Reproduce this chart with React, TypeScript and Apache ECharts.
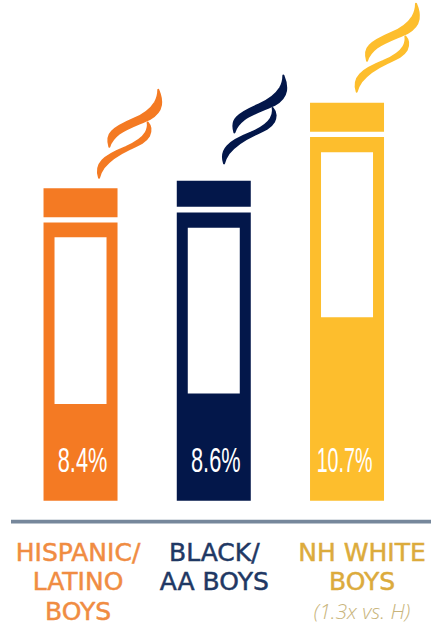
import React, { useEffect, useRef } from "react";
import * as echarts from "echarts";

// Group labels, one row per line of the axis label
const groupLines = [
  ["HISPANIC/", "LATINO", "BOYS"],
  ["BLACK/", "AA BOYS"],
  ["NH WHITE", "BOYS"],
];
const groupNotes = ["", "", "(1.3x vs. H)"];
const groupKeys = ["hispanic", "black", "white"];

// Prevalence per group, in percent
const rates = [8.4, 8.6, 10.7];
// Levels of the bottle details on the same scale: white band under the cap, then the window
const capBandTop = [7.62, 7.9, 9.92];
const capBandBottom = [7.48, 7.75, 9.78];
const windowTops = [7.08, 7.34, 9.37];
const windowBottoms = [2.6, 2.88, 4.93];

const barColors = ["#f47a23", "#03174a", "#fdbe2d"];
const labelColors = ["#f08c42", "#1f3864", "#dcab3c"];
const noteColor = "#c9b57c";
const ruleColor = "#76879b";

// Horizontal nudge of each axis label and value label away from its bar centre
const labelShift = [-2.5, 0.5, 15];
const valueShift = [2, 2, -2.5];
const valueSqueeze = [0.63, 0.63, 0.57];
// Where the flame's lower tip sits, relative to the top centre of its bar
const flameAnchor = [
  [18.5, -10.5],
  [10.3, -17.4],
  [9.7, -11],
];

// Two ribbons, drawn from the lower tip at the origin, at three times their final size
const FLAME_PATH =
  "M178,-264 C184,-250 188,-232 186,-218 C183,-200 170,-186 152,-176 " +
  "C125,-163 85,-150 60,-132 C47,-122 36,-110 31,-93 " +
  "C26,-110 28,-128 38,-138 C50,-152 70,-162 105,-177 " +
  "C135,-190 155,-205 168,-226 C175,-238 178,-250 178,-264 Z " +
  "M146,-166 C156,-155 157,-140 150,-125 C140,-107 118,-98 90,-85 " +
  "C60,-71 30,-50 14,-30 C7,-20 2,-10 0,0 " +
  "C-6,-18 -3,-38 10,-52 C25,-68 50,-80 80,-92 " +
  "C110,-105 130,-118 140,-135 C146,-145 148,-155 146,-166 Z";

echarts.graphic.registerShape("flame", (echarts.graphic as any).extendPath(FLAME_PATH, {}));

const BAR_WIDTH = 74;
const WINDOW_WIDTH = 52;

function axisLabelText(_: string, index: number): string {
  const key = groupKeys[index];
  const rows = groupLines[index].map((line) => `{${key}|${line}}`);
  if (groupNotes[index]) rows.push(`{${key}Note|${groupNotes[index]}}`);
  return rows.join("\n");
}

function axisRich() {
  const rich: Record<string, object> = {};
  groupKeys.forEach((key, i) => {
    const pad = labelShift[i] > 0 ? [0, 0, 0, labelShift[i] * 2] : [0, -labelShift[i] * 2, 0, 0];
    rich[key] = {
      fontFamily: "DejaVu Sans",
      fontSize: 25,
      lineHeight: 29.4,
      color: labelColors[i],
      textBorderColor: labelColors[i],
      textBorderWidth: 0.5,
      padding: pad,
    };
    rich[key + "Note"] = {
      fontFamily: "Open Sans",
      fontSize: 21,
      fontStyle: "italic",
      fontWeight: 300,
      lineHeight: 29.4,
      color: noteColor,
      padding: pad,
    };
  });
  return rich;
}

function renderBottle(params: any, api: any) {
  const i = api.value(0);
  const [cx, top] = api.coord([i, api.value(1)]);
  const [, bottom] = api.coord([i, 0]);
  const [, bandTop] = api.coord([i, api.value(2)]);
  const [, bandBottom] = api.coord([i, api.value(3)]);
  const [, windowTop] = api.coord([i, api.value(4)]);
  const [, windowBottom] = api.coord([i, api.value(5)]);
  const [fx, fy] = flameAnchor[i];
  return {
    type: "group",
    children: [
      {
        type: "rect",
        shape: { x: cx - BAR_WIDTH / 2 - 1, y: bandTop, width: BAR_WIDTH + 2, height: bandBottom - bandTop },
        style: { fill: "#ffffff" },
      },
      {
        type: "rect",
        shape: { x: cx - WINDOW_WIDTH / 2, y: windowTop, width: WINDOW_WIDTH, height: windowBottom - windowTop },
        style: { fill: "#ffffff" },
      },
      {
        type: "flame",
        x: cx + fx,
        y: top + fy,
        scaleX: 1 / 3,
        scaleY: 1 / 3,
        style: { fill: barColors[i], stroke: barColors[i], lineWidth: 6, lineJoin: "round" },
      },
      {
        type: "text",
        x: cx + valueShift[i],
        y: bottom - 40.5,
        scaleX: valueSqueeze[i],
        style: {
          text: `${rates[i]}%`,
          fill: "#ffffff",
          font: "400 34.5px 'Liberation Sans', sans-serif",
          textAlign: "center",
          textVerticalAlign: "middle",
        },
      },
    ],
  };
}

export default function App() {
  const ref = useRef<HTMLDivElement>(null);

  useEffect(() => {
    const chart = echarts.init(ref.current!, undefined, { renderer: "svg" });
    chart.setOption({
      animation: false,
      backgroundColor: "#ffffff",
      grid: { left: 13.9, top: 17.1, width: 399.75, height: 483.6 },
      xAxis: {
        type: "category",
        data: groupKeys,
        offset: 21,
        axisLine: { show: false },
        axisTick: { show: false },
        axisLabel: {
          interval: 0,
          margin: 16,
          hideOverlap: false,
          formatter: axisLabelText,
          rich: axisRich(),
        },
      },
      yAxis: { type: "value", min: 0, max: 13, show: false },
      series: [
        {
          type: "bar",
          barWidth: BAR_WIDTH,
          data: rates.map((value, i) => ({ value, itemStyle: { color: barColors[i] } })),
        },
        {
          type: "custom",
          renderItem: renderBottle,
          encode: { x: 0, y: 1 },
          data: rates.map((value, i) => [
            i,
            value,
            capBandTop[i],
            capBandBottom[i],
            windowTops[i],
            windowBottoms[i],
          ]),
          z: 3,
        },
      ],
      graphic: [
        {
          type: "rect",
          shape: { x: 11, y: 519.8, width: 420, height: 3.6 },
          style: { fill: ruleColor },
        },
      ],
    });
    return () => chart.dispose();
  }, []);

  return <div ref={ref} style={{ position: "absolute", left: 0, top: 0, width: 431, height: 626 }} />;
}
